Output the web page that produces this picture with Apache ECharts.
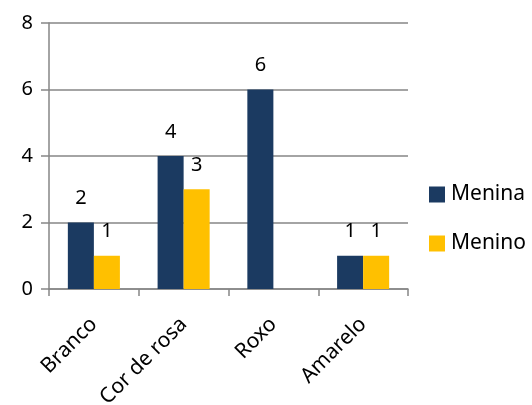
<!DOCTYPE html>
<html><head><meta charset="utf-8">
<script src="https://cdn.jsdelivr.net/npm/echarts@6/dist/echarts.min.js"></script>
<style>html,body{margin:0;padding:0;background:#fff}#c{width:532px;height:405px}</style>
</head><body><div id="c"></div>
<script>
const categories = ['Branco', 'Cor de rosa', 'Roxo', 'Amarelo'];
const menina = [2, 4, 6, 1];
const menino = [1, 3, null, 1];
const yTicks = { min: 0, max: 8, interval: 2 };

const FONT = '"Noto Sans", sans-serif';
const AX = '#868686';
const chart = echarts.init(document.getElementById('c'), null, { renderer: 'canvas' });
const labelCfg = { show: true, position: 'top', distance: 14, color: '#000', fontFamily: FONT, fontSize: 20 };
chart.setOption({
  animation: false,
  backgroundColor: '#fff',
  grid: { left: 49, right: 124, top: 23, bottom: 116, containLabel: false, outerBoundsMode: 'none' },
  legend: {
    orient: 'vertical', left: 424, top: 179, itemWidth: 16, itemHeight: 16, itemGap: 28,
    icon: 'rect',
    textStyle: { fontFamily: FONT, fontSize: 21, color: '#000', padding: [0, 0, 0, 1] },
    data: ['Menina', 'Menino']
  },
  xAxis: {
    type: 'category', data: categories,
    axisLine: { lineStyle: { color: AX, width: 1.5 } },
    axisTick: { show: true, length: 7, lineStyle: { color: AX, width: 1.5 } },
    axisLabel: { rotate: 45, margin: 32, color: '#000', fontFamily: FONT, fontSize: 21, interval: 0, hideOverlap: false }
  },
  yAxis: {
    type: 'value', min: yTicks.min, max: yTicks.max, interval: yTicks.interval,
    axisLine: { show: true, lineStyle: { color: AX, width: 1.5 } },
    axisTick: { show: true, length: 8, lineStyle: { color: AX, width: 1.5 } },
    splitLine: { lineStyle: { color: AX, width: 1.5 } },
    axisLabel: { margin: 16, color: '#000', fontFamily: FONT, fontSize: 20 }
  },
  series: [
    { name: 'Menina', type: 'bar', data: menina, barGap: '0%', barCategoryGap: '42%',
      itemStyle: { color: '#1B3A61' }, label: labelCfg },
    { name: 'Menino', type: 'bar', data: menino, barGap: '0%', barCategoryGap: '42%',
      itemStyle: { color: '#FFC000' }, label: labelCfg }
  ]
});
</script></body></html>
